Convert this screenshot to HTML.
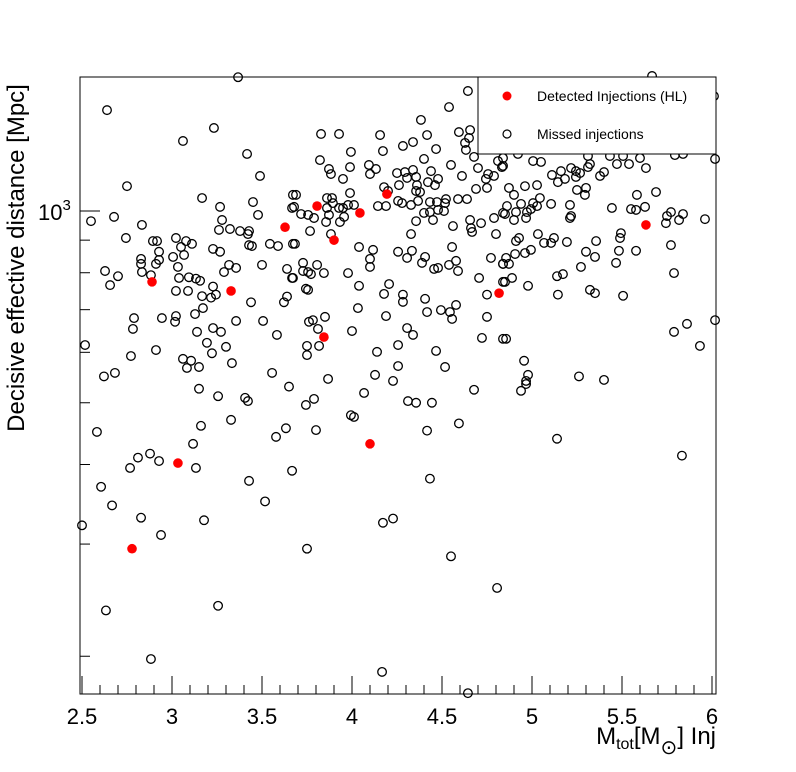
<!DOCTYPE html>
<html><head><meta charset="utf-8"><style>
html,body{margin:0;padding:0;background:#fff;}
svg{display:block;font-family:"Liberation Sans",Arial,sans-serif;}
</style></head><body>
<svg id="chart" width="796" height="772" viewBox="0 0 796 772">
<rect x="0" y="0" width="796" height="772" fill="#fff"/>
<g id="axes"></g>
<g id="marks"></g>
<g id="legend">
<rect x="478" y="77" width="238" height="77" fill="#fff" stroke="#000" stroke-width="1"/>
<circle cx="507" cy="96" r="4.5" fill="#ff0000"/>
<text x="537" y="101" font-size="14">Detected Injections (HL)</text>
<circle cx="507" cy="134" r="4" fill="none" stroke="#000" stroke-width="1.2"/>
<text x="537" y="139" font-size="14">Missed injections</text>
</g>
<text transform="translate(24,258) rotate(-90)" text-anchor="middle" font-size="24">Decisive effective distance [Mpc]</text>
<text x="716" y="744" text-anchor="end" font-size="24">M<tspan font-size="16" dy="5">tot</tspan><tspan dy="-5">[M</tspan><tspan font-size="20" dy="10">⊙</tspan><tspan dy="-10">] Inj</tspan></text>
</svg>
<script>
const xTicks = [2.5, 3, 3.5, 4, 4.5, 5, 5.5, 6];
const xTickLabels = ["2.5", "3", "3.5", "4", "4.5", "5", "5.5", "6"];
const yMinorTicks = [200, 300, 400, 500, 600, 700, 800, 900];
const yMajorTicks = [1000];
const detMass = [2.889, 3.328, 3.628, 3.806, 4.044, 4.194, 3.9, 4.817, 3.844, 3.033, 2.778, 4.1, 5.633];
const detDist = [774, 749, 943, 1018, 993, 1063, 900, 743, 634, 402, 295, 431, 951];
const missMass = [3.367,2.639,3.233,3.061,3.417,3.489,2.75,3.167,3.45,3.672,3.267,3.667,2.55,2.678,3.278,3.478,2.833,3.261,3.322,3.378,3.428,3.422,2.744,2.894,2.917,3.022,3.078,3.111,3.05,2.928,3.428,3.444,3.544,3.589,3.672,3.228,3.267,3.067,3.006,2.828,2.828,2.928,2.911,3.033,3.317,3.356,3.5,3.639,2.628,2.833,3.289,2.7,2.883,3.039,3.094,3.133,3.156,3.667,2.656,3.228,3.022,3.089,3.167,3.217,3.244,3.639,3.439,3.622,3.172,3.128,2.789,2.944,3.022,3.017,3.356,3.506,2.783,3.228,3.272,3.139,3.583,3.194,3.3,2.517,2.911,3.222,2.772,3.061,3.106,3.333,3.083,3.15,3.556,2.683,2.622,
4.644,4.539,4.383,3.828,3.928,4.156,4.417,4.594,4.656,4.65,4.628,4.283,4.339,4.467,3.994,4.172,4.633,3.822,3.989,3.872,3.883,4.094,4.1,4.133,4.4,4.55,4.678,4.811,4.833,4.7,3.95,4.25,4.294,4.339,4.306,4.356,4.439,4.422,4.478,4.461,4.611,4.756,4.744,4.789,4.361,4.356,4.378,4.261,4.178,4.2,3.989,4.689,4.75,3.689,3.678,3.717,3.756,3.789,3.861,3.889,3.894,3.861,3.928,3.95,3.978,4.011,3.872,3.856,3.933,3.956,4.144,4.189,4.256,4.278,4.328,4.367,4.433,4.472,4.522,4.517,4.589,4.639,4.4,4.433,4.478,4.511,4.45,4.356,4.656,4.717,4.789,4.839,4.561,4.661,4.667,4.8,3.767,3.883,4.328,3.683,4.039,4.117,4.256,4.333,4.306,4.556,4.1,4.1,4.406,4.389,4.456,4.478,4.539,4.578,4.589,4.772,4.839,3.728,3.806,3.728,3.756,3.772,3.844,3.978,3.672,4.706,4.839,4.039,4.206,3.744,3.756,4.178,4.283,4.283,4.406,4.75,4.033,4.417,4.494,4.544,4.578,4.556,4.189,3.85,3.761,3.783,3.811,4.0,4.306,4.339,4.75,4.722,4.839,3.75,3.75,3.817,4.256,4.139,4.467,4.256,4.517,3.867,4.128,4.228,
5.667,6.011,4.839,4.839,4.922,5.006,5.05,5.111,5.161,5.144,5.183,5.217,5.244,5.267,5.244,5.311,5.322,5.378,5.4,5.311,5.433,5.506,5.472,5.539,5.6,5.633,5.794,5.839,6.017,4.872,4.9,4.961,5.028,5.25,5.3,5.294,5.583,5.689,4.861,4.85,4.9,4.911,4.939,4.972,4.967,5.006,4.994,5.028,5.044,5.106,5.211,5.217,5.211,5.444,5.55,5.578,5.628,5.75,5.772,5.817,5.839,5.744,5.961,4.911,4.928,5.033,5.067,5.106,5.122,5.194,5.356,5.494,5.489,4.906,4.961,4.994,4.856,4.839,4.872,5.3,5.35,5.483,5.578,5.772,5.467,5.272,4.889,4.85,4.978,5.139,5.172,5.789,5.144,5.322,5.35,5.506,6.017,5.789,5.861,5.933,4.856,4.956,4.978,4.967,5.261,5.4,
3.15,3.256,3.406,3.422,3.65,2.583,3.328,3.161,3.633,3.578,3.117,2.878,2.811,2.928,2.767,3.133,3.667,2.606,3.428,2.667,3.517,2.5,2.828,3.178,2.939,2.633,3.256,2.883,
4.067,3.744,3.789,3.994,4.011,3.8,4.311,4.356,4.444,4.678,4.594,4.417,4.433,4.172,4.228,3.75,4.55,4.806,4.167,4.644,4.939,4.967,5.139,5.833];
const missDist = [1622,1440,1350,1288,1229,1135,1094,1048,1033,1060,1015,1011,964,979,968,986,951,934,937,930,930,920,907,897,897,907,897,888,878,863,884,881,888,881,888,872,863,853,847,841,826,838,826,817,823,814,823,811,805,802,802,790,793,785,787,783,777,785,765,761,749,749,735,731,739,734,719,719,704,689,679,679,684,670,672,672,653,655,646,646,639,621,612,616,605,598,592,586,582,577,567,569,557,557,550,
1543,1456,1390,1321,1321,1316,1316,1330,1340,1302,1279,1265,1283,1251,1238,1242,1247,1202,1172,1164,1143,1181,1143,1164,1207,1181,1216,1198,1172,1168,1123,1147,1151,1160,1127,1131,1155,1110,1123,1098,1135,1143,1123,1135,1098,1075,1071,1098,1090,1075,1067,1083,1087,1060,1015,989,986,975,1048,1048,1029,1011,1011,1011,1022,1022,986,961,961,979,1018,1018,1037,1029,1022,1037,1033,1033,1044,1029,1044,1044,993,996,1004,1000,968,964,968,957,975,993,947,940,927,920,930,920,920,888,878,869,863,866,844,878,841,817,847,829,811,814,823,835,805,844,826,829,823,805,802,796,799,799,785,785,774,763,768,755,752,741,739,720,728,739,704,694,699,694,712,677,684,682,670,674,653,648,655,639,682,632,630,614,594,614,616,601,603,571,569,545,553,541,
1629,1515,1211,1177,1229,1198,1194,1139,1155,1110,1123,1168,1155,1147,1131,1172,1185,1135,1151,1220,1220,1220,1185,1185,1211,1168,1224,1229,1207,1087,1060,1094,1098,1079,1087,1060,1060,1071,1018,989,968,996,1026,996,975,1029,1007,1018,1048,1026,1022,982,975,1011,1007,1004,1015,982,996,968,989,957,971,897,907,920,891,891,907,894,897,923,907,856,859,869,844,826,826,863,847,866,866,884,829,817,785,774,763,790,796,799,739,752,743,736,674,646,665,614,630,582,553,541,550,543,
526,512,509,503,530,450,470,460,456,442,431,416,410,405,395,395,391,369,377,345,350,321,330,327,310,236,240,198,
518,496,507,478,475,453,503,500,500,524,464,452,380,324,329,295,287,256,189,175,522,535,439,413];

const L=80,R=716,T=77,B=694;
function xPos(m){return 82+(m-2.5)*180;}
function yPos(d){return 211-637*Math.log10(d/1000);}
const NS="http://www.w3.org/2000/svg";
const axes=document.getElementById('axes');
const marks=document.getElementById('marks');
function mk(tag,attrs,parent){const e=document.createElementNS(NS,tag);for(const k in attrs)e.setAttribute(k,attrs[k]);parent.appendChild(e);return e;}

const frame=mk('rect',{x:L,y:T,width:R-L,height:B-T,fill:'none',stroke:'#000','stroke-width':1},axes);



for(let v=2.5;v<=6.001;v+=0.1){
  const x=xPos(v);
  if(x<L||x>R)continue;
  const isMajor=Math.abs(v*2-Math.round(v*2))<1e-6;
  const t=mk('line',{x1:x,x2:x,y1:B,y2:B-(isMajor?18:9),stroke:'#000','stroke-width':1},axes);
  
  
}
xTicks.forEach((v,i)=>{
  const t=mk('text',{x:xPos(v),y:724,'text-anchor':'middle','font-size':22},axes);
  t.textContent=xTickLabels[i];
  
  
});
yMinorTicks.forEach(v=>{
  const y=yPos(v);
  const t=mk('line',{x1:L,x2:L+10,y1:y,y2:y,stroke:'#000','stroke-width':1},axes);
  
  
});
yMajorTicks.forEach(v=>{
  const y=yPos(v);
  const t=mk('line',{x1:L,x2:L+20,y1:y,y2:y,stroke:'#000','stroke-width':1},axes);
  
  
  const lab=mk('text',{x:38,y:y+9,'font-size':22},axes);
  lab.innerHTML='10<tspan font-size="15" dy="-10">3</tspan>';
  
  
});

missMass.forEach((m,i)=>{
  const c=mk('circle',{cx:xPos(m),cy:yPos(missDist[i]),r:4.3,fill:'none',stroke:'#000','stroke-width':1.3},marks);
  
  
});
detMass.forEach((m,i)=>{
  const c=mk('circle',{cx:xPos(m),cy:yPos(detDist[i]),r:4.8,fill:'#ff0000'},marks);
  
  
});
</script>
</body></html>
